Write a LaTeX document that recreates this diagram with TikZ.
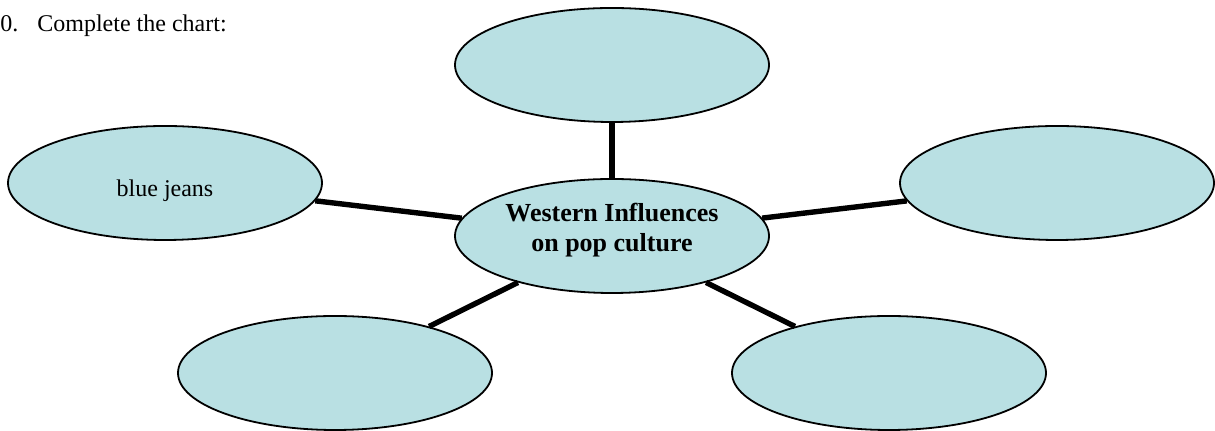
\documentclass[tikz,border=0pt]{standalone}
\usepackage{fontspec}
\setmainfont{Liberation Serif}
\usetikzlibrary{shapes.geometric}
\definecolor{bubblefill}{RGB}{185,224,227}
\tikzstyle{bubble} = [ellipse, draw, line width=0.9pt, fill=bubblefill, minimum width=157pt, minimum height=57pt, inner sep=0pt, font=\fontsize{12}{14}\selectfont]
\tikzstyle{spoke} = [line width=2.7pt]

\begin{document}
\begin{tikzpicture}[x=0.5pt, y=-0.5pt]
        \useasboundingbox (0,0) rectangle (1215,431);
        \node (title) [anchor=base west, inner sep=0pt, font=\fontsize{12}{14}\selectfont] at (0,32) {0.\hspace{9.5pt}Complete the chart:};
        \node (hub) [bubble, align=center, font=\bfseries\fontsize{13}{15}\selectfont, text depth=9pt] at (612,236) {Western Influences\\on pop culture};
        \node (top) [bubble] at (612,65) {};
        \node (left) [bubble, text height=16pt] at (165,183) {blue jeans};
        \node (right) [bubble] at (1057,183) {};
        \node (lowleft) [bubble] at (335,373) {};
        \node (lowright) [bubble] at (889,373) {};
        \draw [spoke] (hub) -- (top);
        \draw [spoke] (hub) -- (left);
        \draw [spoke] (hub) -- (right);
        \draw [spoke] (hub) -- (lowleft);
        \draw [spoke] (hub) -- (lowright);
    \end{tikzpicture}
\end{document}
